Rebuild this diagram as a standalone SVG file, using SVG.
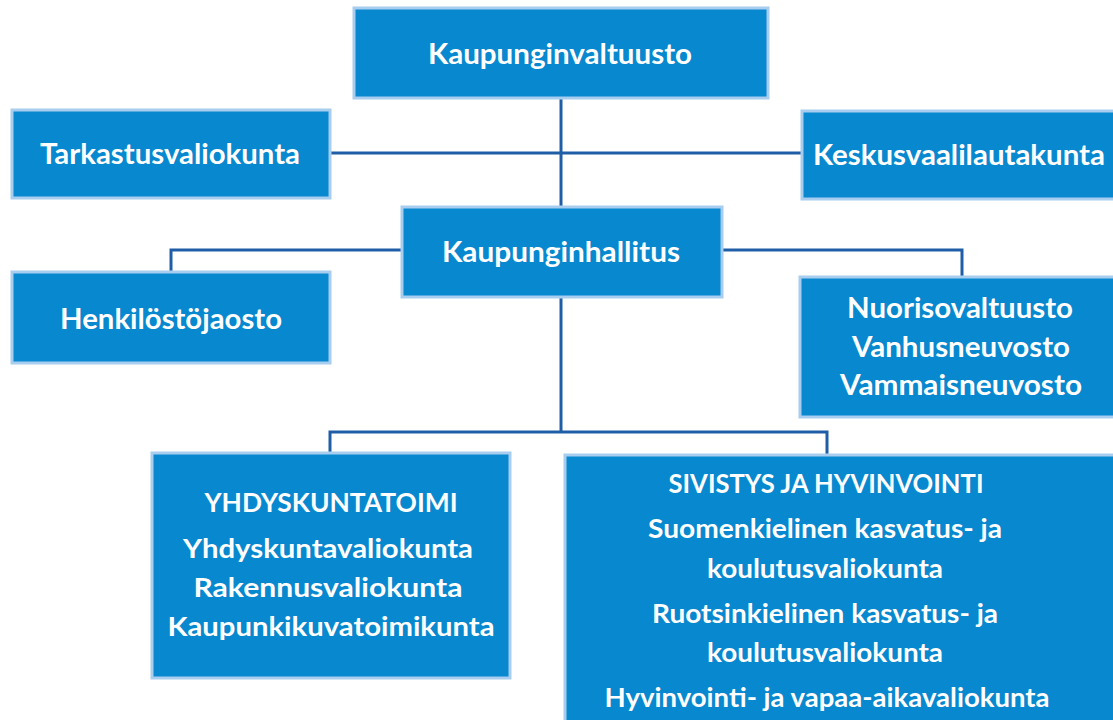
<svg xmlns="http://www.w3.org/2000/svg" width="1113" height="720" viewBox="0 0 1113 720">
<style>
.box{fill:#0788cf;stroke:#a8cdee;stroke-width:3}
.t{font-family:Lato,"Open Sans","Liberation Sans",sans-serif;font-weight:700;fill:#ffffff;text-anchor:middle}
.c{fill:none;stroke:#1f5ea6;stroke-width:3}
</style>
<rect width="1113" height="720" fill="#ffffff"/>
<g id="connectors">
<line class="c" x1="561" y1="98" x2="561" y2="207"/>
<line class="c" x1="330" y1="153" x2="802" y2="153"/>
<polyline class="c" points="402,250 171,250 171,272"/>
<polyline class="c" points="722,250 962,250 962,277"/>
<line class="c" x1="561" y1="297" x2="561" y2="432"/>
<polyline class="c" points="330,453 330,432 827,432 827,455"/>
</g>
<g id="kaupunginvaltuusto">
<rect class="box" x="354" y="8" width="414" height="90"/>
<text class="t" x="560" y="64" font-size="28" textLength="264" lengthAdjust="spacingAndGlyphs">Kaupunginvaltuusto</text>
</g>
<g id="tarkastusvaliokunta">
<rect class="box" x="12" y="110" width="318" height="88"/>
<text class="t" x="170" y="164" font-size="28" textLength="260" lengthAdjust="spacingAndGlyphs">Tarkastusvaliokunta</text>
</g>
<g id="keskusvaalilautakunta">
<rect class="box" x="802" y="111" width="320" height="88"/>
<text class="t" x="959" y="165" font-size="28" textLength="292" lengthAdjust="spacingAndGlyphs">Keskusvaalilautakunta</text>
</g>
<g id="kaupunginhallitus">
<rect class="box" x="402" y="207" width="320" height="90"/>
<text class="t" x="561" y="262" font-size="28" textLength="238" lengthAdjust="spacingAndGlyphs">Kaupunginhallitus</text>
</g>
<g id="henkilostojaosto">
<rect class="box" x="12" y="272" width="318" height="91"/>
<text class="t" x="171" y="329" font-size="28" textLength="222" lengthAdjust="spacingAndGlyphs">Henkilöstöjaosto</text>
</g>
<g id="neuvostot">
<rect class="box" x="800" y="277" width="320" height="140"/>
<text class="t" x="960" y="318" font-size="28" textLength="226" lengthAdjust="spacingAndGlyphs">Nuorisovaltuusto</text>
<text class="t" x="961" y="357" font-size="28" textLength="218" lengthAdjust="spacingAndGlyphs">Vanhusneuvosto</text>
<text class="t" x="961" y="395" font-size="28" textLength="242" lengthAdjust="spacingAndGlyphs">Vammaisneuvosto</text>
</g>
<g id="yhdyskuntatoimi">
<rect class="box" x="152" y="453" width="358" height="225"/>
<text class="t" x="331" y="512" font-size="26" textLength="253" lengthAdjust="spacingAndGlyphs">YHDYSKUNTATOIMI</text>
<text class="t" x="328" y="558" font-size="26" textLength="290" lengthAdjust="spacingAndGlyphs">Yhdyskuntavaliokunta</text>
<text class="t" x="328" y="597" font-size="26" textLength="269" lengthAdjust="spacingAndGlyphs">Rakennusvaliokunta</text>
<text class="t" x="331" y="636" font-size="26" textLength="327" lengthAdjust="spacingAndGlyphs">Kaupunkikuvatoimikunta</text>
</g>
<g id="sivistys">
<rect class="box" x="565" y="455" width="560" height="280"/>
<text class="t" x="826" y="493" font-size="26" textLength="315" lengthAdjust="spacingAndGlyphs">SIVISTYS JA HYVINVOINTI</text>
<text class="t" x="825" y="538" font-size="26" textLength="354" lengthAdjust="spacingAndGlyphs">Suomenkielinen kasvatus- ja</text>
<text class="t" x="825" y="578" font-size="26" textLength="236" lengthAdjust="spacingAndGlyphs">koulutusvaliokunta</text>
<text class="t" x="825" y="623" font-size="26" textLength="346" lengthAdjust="spacingAndGlyphs">Ruotsinkielinen kasvatus- ja</text>
<text class="t" x="825" y="662" font-size="26" textLength="236" lengthAdjust="spacingAndGlyphs">koulutusvaliokunta</text>
<text class="t" x="827" y="707" font-size="26" textLength="445" lengthAdjust="spacingAndGlyphs">Hyvinvointi- ja vapaa-aikavaliokunta</text>
</g>
</svg>
